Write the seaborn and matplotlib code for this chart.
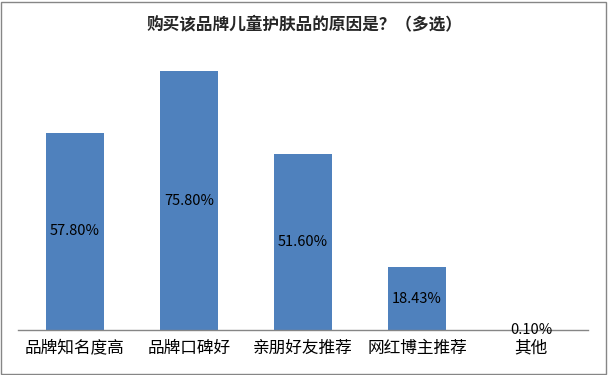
import matplotlib
matplotlib.use("Agg")
import pandas as pd
import seaborn as sns
from matplotlib import pyplot as plt
from matplotlib.patches import Rectangle

categories = ["品牌知名度高", "品牌口碑好", "亲朋好友推荐", "网红博主推荐", "其他"]
values = [57.80, 75.80, 51.60, 18.43, 0.10]
title = "购买该品牌儿童护肤品的原因是？（多选）"

sns.set_style("white")
plt.rcParams["font.family"] = ["Noto Sans CJK SC", "DejaVu Sans"]

df = pd.DataFrame({"cat": categories, "val": values})

fig = plt.figure(figsize=(6.08, 3.75), dpi=100)
ax = fig.add_axes([0.0296, 0.12, 0.9375, 0.728])

sns.barplot(data=df, x="cat", y="val", ax=ax, color="#4F81BD", width=0.51,
            saturation=1, edgecolor="none")

ax.set_ylim(0, 80)
ax.set_xlim(-0.5, len(categories) - 0.5)
ax.set_xlabel("")
ax.set_ylabel("")
ax.set_yticks([])
for s in ["top", "right", "left"]:
    ax.spines[s].set_visible(False)
ax.spines["bottom"].set_color("#868686")
ax.spines["bottom"].set_linewidth(1)
ax.tick_params(axis="x", length=0, labelsize=12, pad=7, colors="black")

for i, v in enumerate(values):
    ax.text(i, v / 2, f"{v:.2f}%", ha="center", va="center", fontsize=10.5, color="black")

fig.text(0.5, 0.935, title, ha="center", va="center", fontsize=12, fontweight="bold")
fig.patches.append(Rectangle((0.002, 0.003), 0.995, 0.993, transform=fig.transFigure,
                             fill=False, edgecolor="#868686", linewidth=1))

fig.savefig("out.png", dpi=100)
